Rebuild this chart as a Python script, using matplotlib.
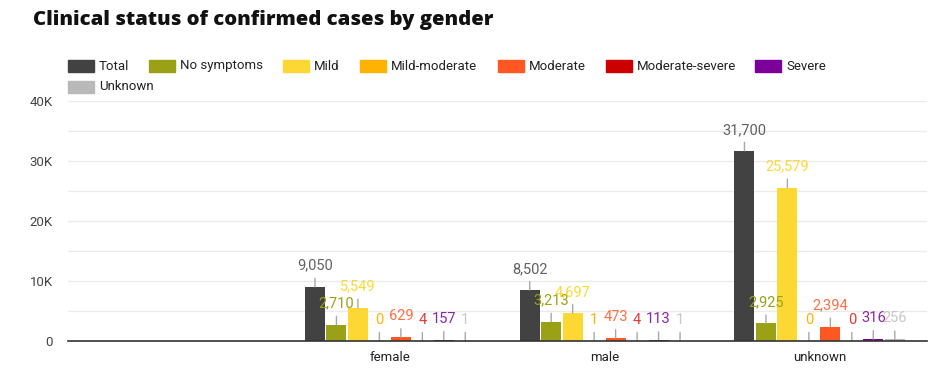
import matplotlib
matplotlib.use("Agg")
import matplotlib.pyplot as plt
from matplotlib.patches import Rectangle
import numpy as np

categories = ["female", "male", "unknown"]
series_names = ["Total", "No symptoms", "Mild", "Mild-moderate", "Moderate",
                "Moderate-severe", "Severe", "Unknown"]
total = [9050, 8502, 31700]
no_symptoms = [2710, 3213, 2925]
mild = [5549, 4697, 25579]
mild_moderate = [0, 1, 0]
moderate = [629, 473, 2394]
moderate_severe = [4, 4, 0]
severe = [157, 113, 316]
unknown = [1, 1, 256]
series_values = [total, no_symptoms, mild, mild_moderate, moderate,
                 moderate_severe, severe, unknown]
y_ticks = [0, 10000, 20000, 30000, 40000]
y_tick_labels = ["0", "10K", "20K", "30K", "40K"]

colors = ["#424242", "#9aa116", "#fdd835", "#ffb300", "#ff5722",
          "#cc0000", "#7b0099", "#b9b9b9"]
label_colors = ["#616161", "#9aa116", "#fdd835", "#ffb300", "#ff6e40",
                "#e53935", "#8e24aa", "#c8c8c8"]

plt.rcParams['font.family'] = ['Roboto', 'DejaVu Sans']

W, H = 949, 375
fig = plt.figure(figsize=(W / 100, H / 100), dpi=100)
ax = fig.add_axes([68 / W, 1 - 341 / H, (927 - 68) / W, (341 - 101) / H])

positions = np.arange(len(categories)) + 1
n = len(series_names)
stride = 0.1
width = 0.093
for i, (name, vals) in enumerate(zip(series_names, series_values)):
    xs = positions + (i - (n - 1) / 2) * stride
    ax.bar(xs, vals, width=width, color=colors[i], edgecolor='none', zorder=3)
    for x, v in zip(xs, vals):
        ax.annotate(f"{v:,}", xy=(x, v), xytext=(0, 21), textcoords='offset pixels',
                    ha='center', va='center', fontsize=10.5, color=label_colors[i],
                    arrowprops=dict(arrowstyle='-', color='#a8a8a8', lw=1,
                                    shrinkA=2, shrinkB=0), zorder=4)

ax.set_xlim(-0.5, 3.5)
ax.set_ylim(0, 40000)
ax.set_xticks(positions)
ax.set_xticklabels(categories, fontsize=9.5, color='#222222')
ax.set_yticks(y_ticks)
ax.set_yticklabels(y_tick_labels, fontsize=9.5, color='#444444')
ax.set_yticks(np.arange(5000, 40000, 10000), minor=True)
ax.tick_params(axis='both', which='both', length=0)
ax.tick_params(axis='y', pad=11)
ax.tick_params(axis='x', pad=7)
ax.grid(axis='y', which='both', color='#ebebeb', lw=1, zorder=0)
for s in ['top', 'right', 'left']:
    ax.spines[s].set_visible(False)
ax.spines['bottom'].set_color('#333333')
ax.spines['bottom'].set_linewidth(1.2)
ax.spines['bottom'].set_zorder(5)

fig.text(33 / W, 1 - 20 / H, "Clinical status of confirmed cases by gender",
         family=['Open Sans', 'DejaVu Sans'], fontweight='heavy', fontsize=14.6,
         color='#111111', va='center', ha='left')

# legend
legend_x = [68, 149, 283, 360, 498, 606, 755, 68]
legend_y = [66, 66, 66, 66, 66, 66, 66, 87]
for i, name in enumerate(series_names):
    px, py = legend_x[i], legend_y[i]
    fig.patches.append(Rectangle((px / W, 1 - (py + 6) / H), 26 / W, 12 / H,
                                 transform=fig.transFigure, color=colors[i]))
    fig.text((px + 31) / W, 1 - py / H, name, fontsize=9.5, color='#222222',
             va='center', ha='left')

fig.savefig("out.png", dpi=100)
